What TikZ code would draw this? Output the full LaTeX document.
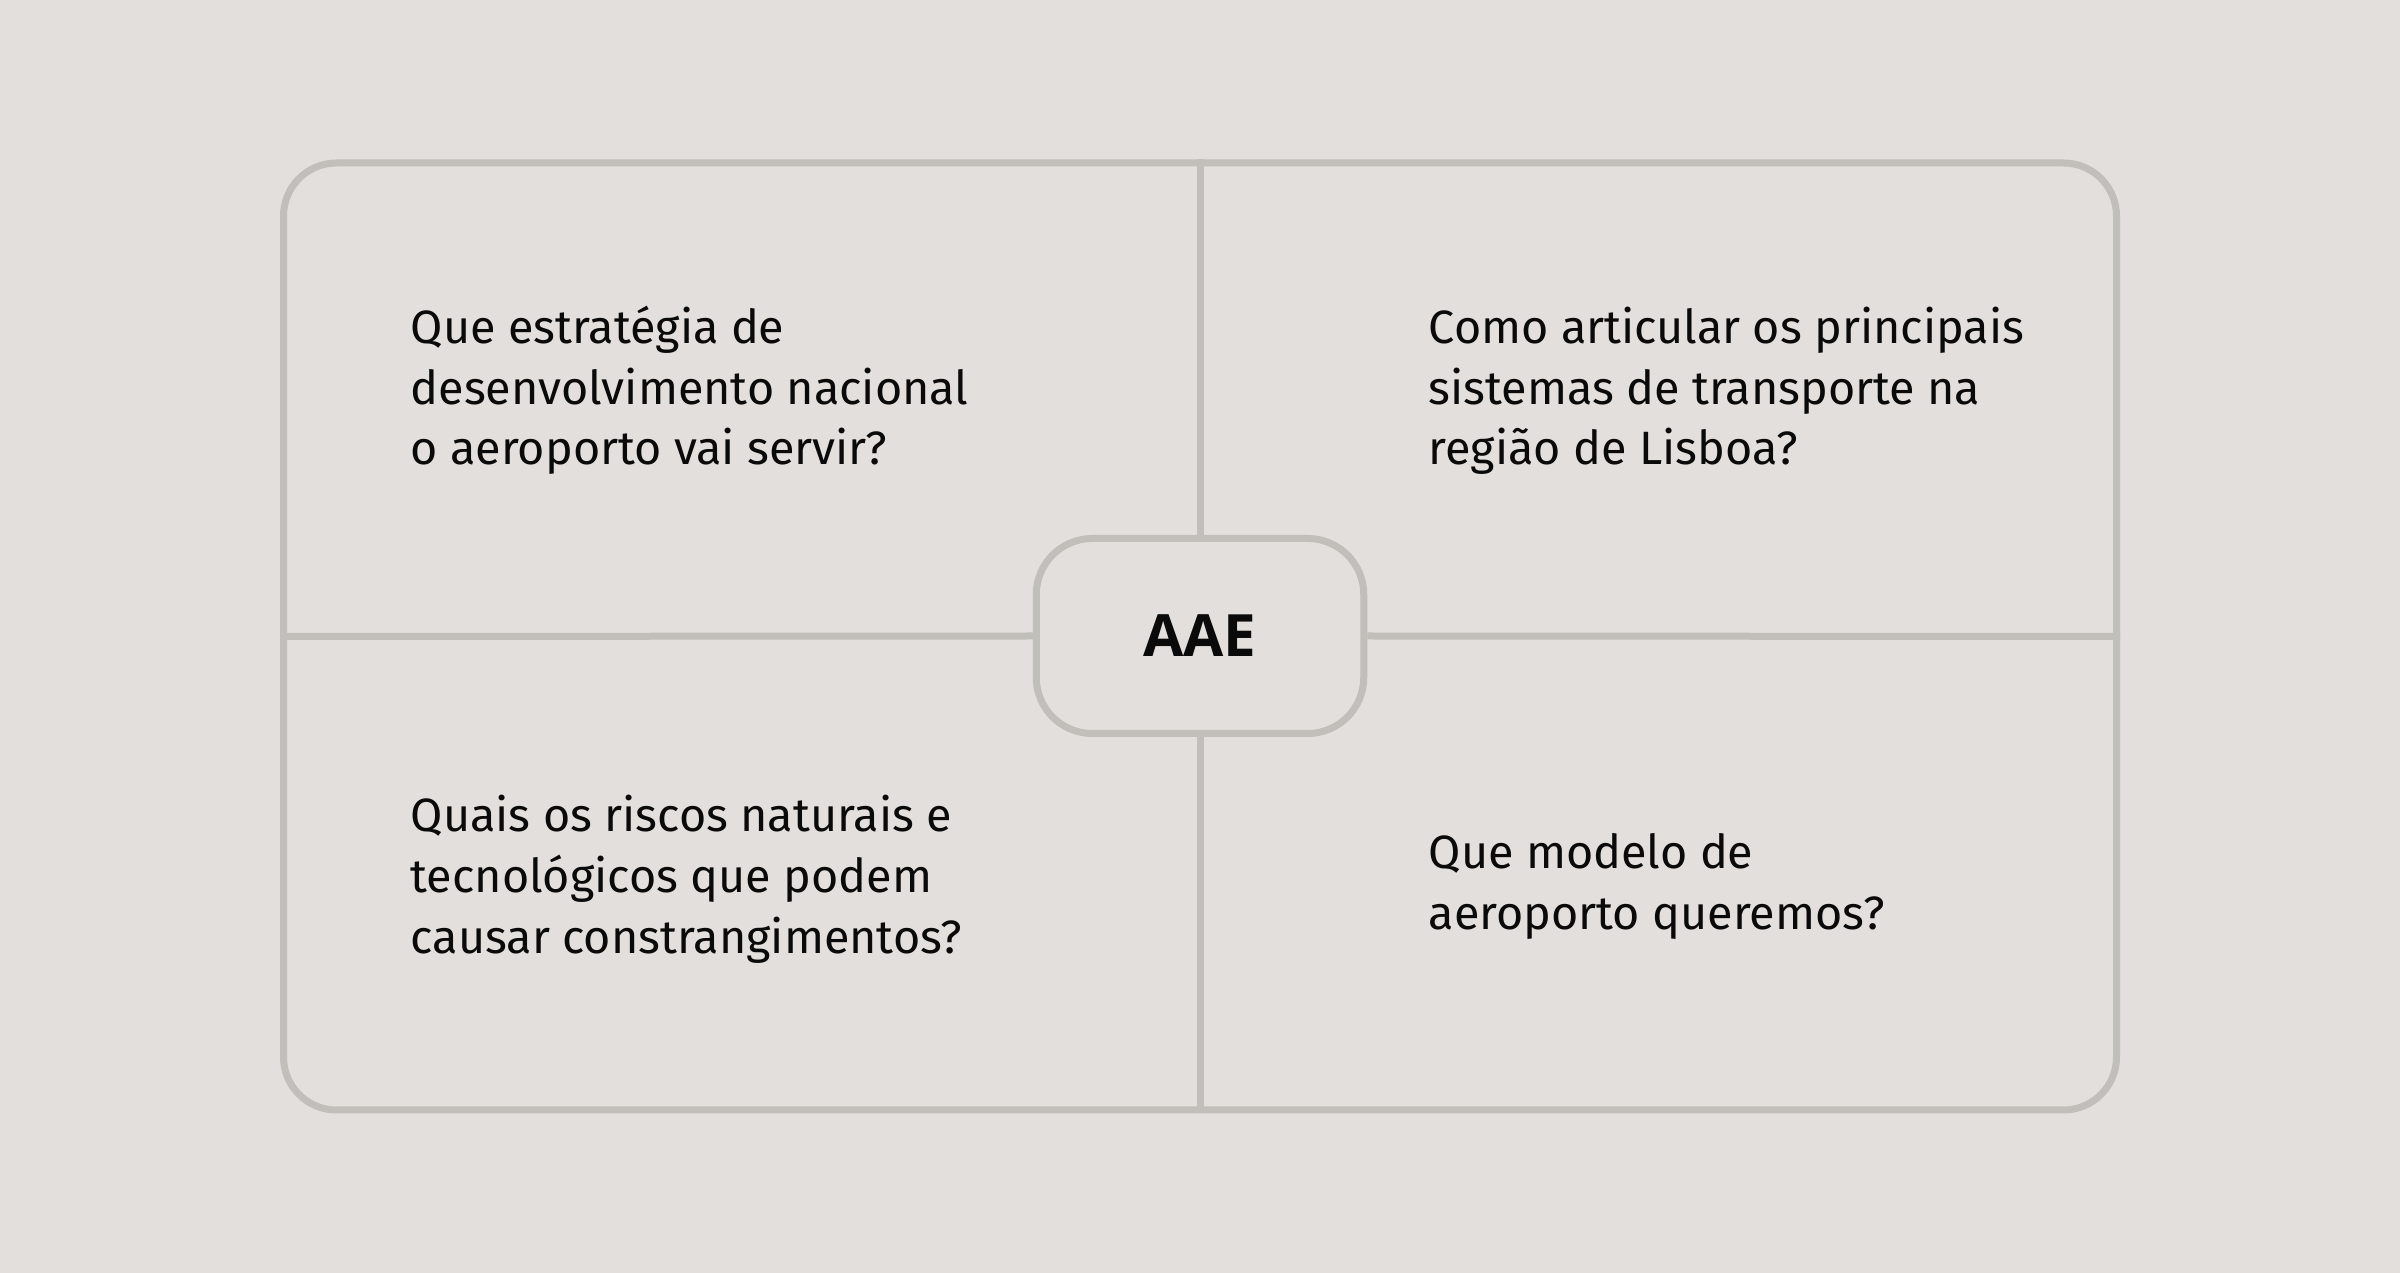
\documentclass[tikz,border=0pt]{standalone}
\usepackage{fontspec}
\usepackage{tikz}
\setmainfont{Fira Sans}
\newfontfamily\hubfont{Open Sans}
\usetikzlibrary{positioning}
\definecolor{mbg}{RGB}{226,223,220}
\definecolor{mline}{RGB}{193,191,186}
\definecolor{mtext}{RGB}{10,10,10}
\tikzset{outerbox/.style = {draw = mline, line width = 0.7mm, rounded corners = 5.3mm, minimum width = 183.3mm, minimum height = 94.7mm, inner sep = 0}}
\tikzset{hubbox/.style = {draw = mline, fill = mbg, line width = 0.7mm, rounded corners = 5.6mm, minimum width = 32.75mm, minimum height = 19.5mm, inner sep = 0, text = mtext, font = \hubfont\bfseries\fontsize{16.6}{20}\selectfont}}
\tikzset{question/.style = {anchor = base west, align = left, inner sep = 0, text = mtext, font = \fontsize{13.3}{17.3}\selectfont}}
\tikzset{divider/.style = {draw = mline, line width = 0.7mm}}

\begin{document}
\begin{tikzpicture}[x = 0.1mm, y = -0.1mm]
      \fill [mbg] (0, 0) rectangle (2400, 1273);
      \useasboundingbox (0, 0) rectangle (2400, 1273);

      \node [outerbox] (frame) at (1200, 636.5) {};
      \node [hubbox] (aae) at (1200, 636) {AAE};

      \draw [divider] (frame.north) -- (aae.north);
      \draw [divider] (aae.south) -- (frame.south);
      \draw [divider] (frame.west) -- (aae.west);
      \draw [divider] (aae.east) -- (frame.east);

      % base anchor sits on the last line
      \node [question] (strategy) at (410, 465) {Que estratégia de\\desenvolvimento nacional\\o aeroporto vai servir?};
      \node [question] (transport) at (1428, 465) {Como articular os principais\\sistemas de transporte na\\região de Lisboa?};
      \node [question] (risks) at (410, 953) {Quais os riscos naturais e\\tecnológicos que podem\\causar constrangimentos?};
      \node [question] (model) at (1428, 929) {Que modelo de\\aeroporto queremos?};
    \end{tikzpicture}
\end{document}
